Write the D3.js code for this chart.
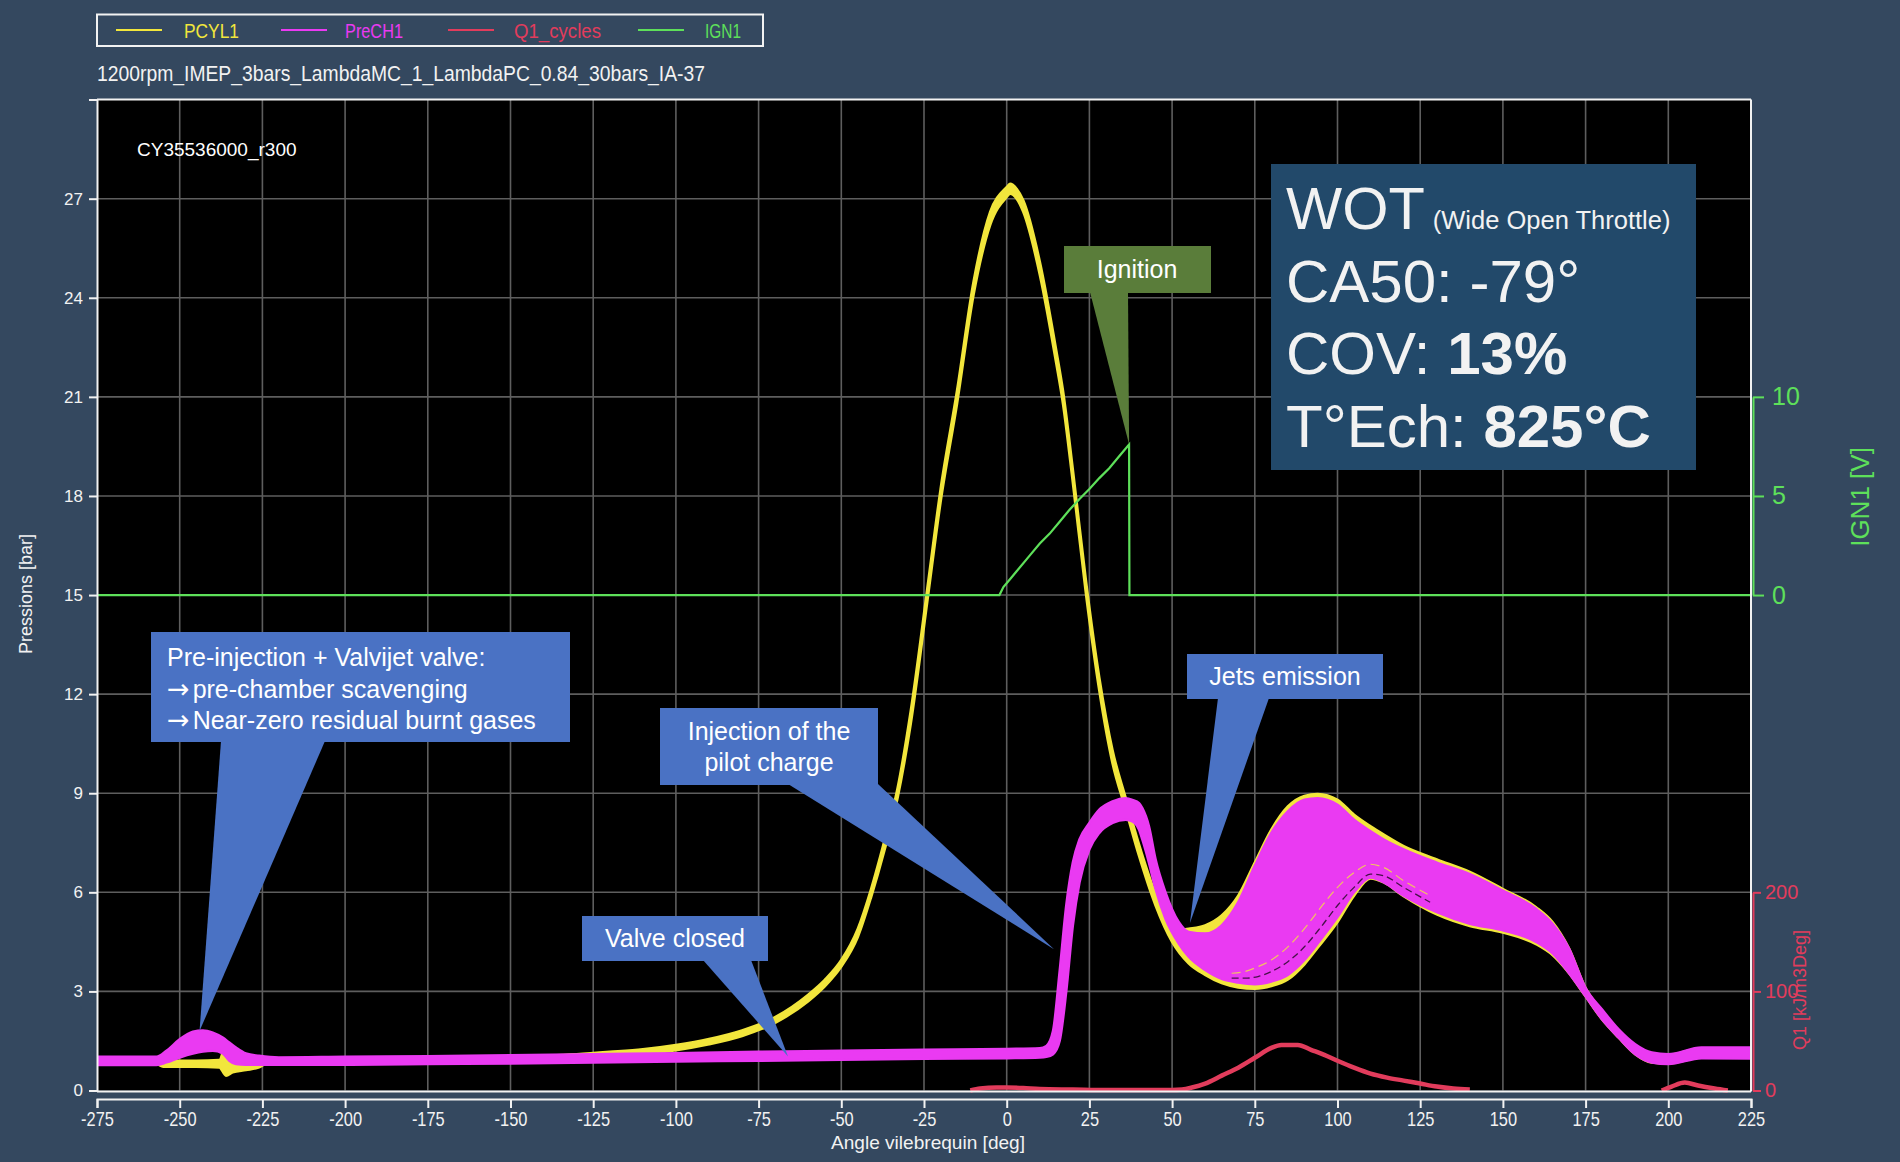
<!DOCTYPE html>
<html><head><meta charset="utf-8">
<script src="https://cdn.jsdelivr.net/npm/d3@7"></script>
<style>
html,body{margin:0;padding:0;background:#34485f;}
svg{display:block;}
</style></head><body>
<svg id="chart" width="1900" height="1162"></svg>
<script>
// ---------------- DATA ----------------
const seriesNames = ["PCYL1", "PreCH1", "Q1_cycles", "IGN1"];
const xTicks = [-275,-250,-225,-200,-175,-150,-125,-100,-75,-50,-25,0,25,50,75,100,125,150,175,200,225];
const yTicks = [0,3,6,9,12,15,18,21,24,27];
const ignTicks = [0,5,10];
const q1Ticks = [0,100,200];

// PCYL1 (cylinder pressure, bar) – envelope of the recorded cycles
const pcylAngle = [-275,-257,-255,-245,-238,-236,-234,-230,-226,-224,-200,-175,-150,-130,-120,-110,-100,-90,-80,-70,-60,-55,-50,-45,-41,-37,-33,-29,-24,-20,-15,-10,-5,0,1,3,5,10,15,17,20,24,28,32,36,40,45,50,55,60,65,70,75,80,85,90,94,100,105,110,114,120,130,140,150,160,165,170,175,180,185,190,195,200,210,225];
const pcylLow  = [0.8,0.8,0.72,0.72,0.7,0.45,0.55,0.62,0.7,0.8,0.82,0.85,0.9,0.97,1.03,1.1,1.22,1.4,1.65,2.05,2.7,3.15,3.75,4.65,5.85,7.25,8.85,11.1,14.8,17.8,20.8,24.1,26.2,27.05,27.15,27.0,26.6,24.7,22.0,20.8,18.4,15.0,12.1,9.9,8.5,7.1,5.6,4.5,3.85,3.5,3.25,3.12,3.08,3.16,3.36,3.82,4.32,5.1,5.9,6.42,6.3,5.88,5.33,4.98,4.78,4.43,4.1,3.55,2.85,2.15,1.6,1.1,0.85,0.82,1.0,1.0];
const pcylHigh = [0.95,0.95,0.9,0.9,0.92,1.4,1.1,0.95,0.9,0.92,0.95,0.98,1.02,1.1,1.17,1.25,1.38,1.56,1.82,2.22,2.9,3.35,3.95,4.9,6.1,7.55,9.15,11.5,15.2,18.2,21.2,24.5,26.6,27.35,27.45,27.3,26.95,25.1,22.4,21.2,18.8,15.4,12.5,10.3,8.85,7.45,5.95,4.85,4.9,5.0,5.3,5.9,6.9,7.9,8.6,8.92,8.98,8.8,8.35,8.0,7.75,7.4,7.0,6.62,6.1,5.55,5.1,4.3,3.1,2.4,1.8,1.35,1.1,1.08,1.28,1.28];

// PreCH1 (pre-chamber pressure, bar) – envelope of the recorded cycles
const prechAngle = [-275,-257,-254,-250,-246,-243,-240,-237,-235,-233,-230,-226,-220,-200,-175,-150,-125,-100,-75,-50,-25,0,10,12,14,16,18,20,22,25,28,32,36,38,40,41,43,45,48,52,55,60,65,70,75,80,85,90,94,100,105,110,114,120,130,140,150,160,165,170,175,180,185,190,195,200,210,225];
const prechLow  = [0.77,0.77,0.85,1.0,1.12,1.18,1.2,1.12,0.9,0.8,0.78,0.78,0.78,0.78,0.8,0.82,0.85,0.88,0.9,0.93,0.96,0.98,1.0,1.02,1.1,1.5,3.0,5.0,6.3,7.3,7.8,8.1,8.2,8.15,7.9,7.6,6.9,6.1,5.2,4.45,4.05,3.65,3.38,3.27,3.22,3.3,3.5,3.95,4.45,5.25,6.0,6.45,6.3,5.9,5.4,5.05,4.85,4.5,4.15,3.55,2.85,2.15,1.6,1.1,0.85,0.8,0.98,0.97];
const prechHigh = [1.02,1.02,1.2,1.55,1.78,1.82,1.75,1.6,1.45,1.3,1.12,1.05,1.0,1.02,1.04,1.07,1.1,1.13,1.17,1.2,1.23,1.26,1.28,1.35,1.8,3.6,5.6,6.9,7.6,8.1,8.5,8.75,8.85,8.8,8.7,8.55,8.0,7.0,6.0,5.1,4.8,4.75,5.0,5.7,6.8,7.8,8.45,8.8,8.85,8.65,8.2,7.85,7.6,7.3,6.9,6.55,6.05,5.5,5.05,4.3,3.1,2.45,1.85,1.4,1.15,1.1,1.3,1.3];

// a few individual late-burning cycles visible inside the band
const lateAngle  = [68,72,76,80,85,90,95,100,105,110,114,120,128];
const lateCycleA = [3.4,3.4,3.45,3.6,3.9,4.35,4.95,5.6,6.15,6.55,6.5,6.15,5.7];
const lateCycleB = [3.55,3.6,3.75,3.95,4.35,4.9,5.55,6.15,6.6,6.85,6.75,6.35,5.9];

// Q1_cycles (heat release, kJ/m3Deg) – null = no trace
const q1Angle = [-11,-8,-3,0,5,10,20,30,50,53,56,60,65,70,75,80,83,88,92,96,100,105,110,115,120,125,130,135,140,170,198,201,205,209,214,218];
const q1Value = [0,2,3,3,2.5,1.5,1,0.5,0.5,1,3,7,15,23,33,43,46,46,41,36,30,23,17,13,10,7,4,2,1,null,0,4,8,5,2,0];

// IGN1 (ignition coil signal, V)
const ignAngle = [-275,-2.2,-1,1,3,7,10,13,16,19,22,25,28,31,34,37,37.1,225];
const ignValue = [0,0,0.4,0.8,1.2,2.0,2.6,3.1,3.7,4.3,4.85,5.35,5.9,6.4,7.0,7.6,0,0];

// annotation texts
const infoLines = ["WOT", "CA50: -79°", "COV: ", "T°Ech: "];
const infoBold = ["", "", "13%", "825°C"];

// ---------------- LAYOUT ----------------
const C = {
  bg:"#34485f", plot:"#000000", grid:"#5e5e5e", white:"#f2f2f2",
  yellow:"#f2e63c", magenta:"#ea3af2", red:"#e23c5c", green:"#5ee05a",
  blue:"#4a72c4", ign:"#5a7d3a", info:"#22496a"
};
const SANS = "'Liberation Sans',Arial,Helvetica,sans-serif";

const L = 97, R = 1751;
const x = d3.scaleLinear().domain([-275,225]).range([L,R]);
const y = d3.scaleLinear().domain([0,30]).range([1090.5,99.6]);
const yIgn = d3.scaleLinear().domain([0,10]).range([y(15), y(21)]);
const yQ1 = d3.scaleLinear().domain([0,200]).range([y(0), y(6)]);

const svg = d3.select("#chart");
svg.append("rect").attr("width",1900).attr("height",1162).attr("fill",C.bg);

// narrow (condensed) text helper
function narrow(parent, px, py, str, size, fill, width, anchor){
  return parent.append("text").attr("x",px).attr("y",py).attr("font-family",SANS).attr("font-size",size)
    .attr("fill",fill).attr("textLength",width).attr("lengthAdjust","spacingAndGlyphs")
    .attr("text-anchor",anchor||"start").text(str);
}

// plot background
svg.append("rect").attr("x",L).attr("y",y(30)).attr("width",R-L).attr("height",y(0)-y(30)).attr("fill",C.plot);

// grid
const g = svg.append("g");
g.selectAll(".vg").data(xTicks.slice(1,-1)).join("line")
  .attr("x1",d=>x(d)).attr("x2",d=>x(d)).attr("y1",y(30)).attr("y2",y(0))
  .attr("stroke",C.grid).attr("stroke-width",1.6);
g.selectAll(".hg").data(yTicks.slice(1)).join("line")
  .attr("x1",L).attr("x2",R).attr("y1",d=>y(d)).attr("y2",d=>y(d))
  .attr("stroke",C.grid).attr("stroke-width",1.6);

// ---- series ----
const pcyl = pcylAngle.map((a,i)=>({a, lo:pcylLow[i], hi:pcylHigh[i]}));
const prech = prechAngle.map((a,i)=>({a, lo:prechLow[i], hi:prechHigh[i]}));
const q1 = q1Angle.map((a,i)=>({a, v:q1Value[i]}));
const ign = ignAngle.map((a,i)=>({a, v:ignValue[i]}));

const area = d3.area().x(d=>x(d.a)).y0(d=>y(d.lo)).y1(d=>y(d.hi)).curve(d3.curveMonotoneX);
const lineLo = d3.line().x(d=>x(d.a)).y(d=>y(d.lo)).curve(d3.curveMonotoneX);
const lineHi = d3.line().x(d=>x(d.a)).y(d=>y(d.hi)).curve(d3.curveMonotoneX);

// PCYL1
svg.append("path").datum(pcyl).attr("d",area).attr("fill",C.yellow);
[lineLo,lineHi].forEach(fn=>svg.append("path").datum(pcyl).attr("d",fn)
  .attr("fill","none").attr("stroke",C.yellow).attr("stroke-width",2.5).attr("stroke-linejoin","round"));

// PreCH1
svg.append("path").datum(prech).attr("d",area).attr("fill",C.magenta);
[lineLo,lineHi].forEach(fn=>svg.append("path").datum(prech).attr("d",fn)
  .attr("fill","none").attr("stroke",C.magenta).attr("stroke-width",2.5).attr("stroke-linejoin","round"));

// individual cycles inside band
const cyc = d3.line().x(d=>x(d.a)).y(d=>y(d.v)).curve(d3.curveMonotoneX);
svg.append("path").datum(lateAngle.map((a,i)=>({a,v:lateCycleA[i]}))).attr("d",cyc)
  .attr("fill","none").attr("stroke","#000").attr("stroke-width",1.3).attr("stroke-dasharray","7,4").attr("opacity",0.7);
svg.append("path").datum(lateAngle.map((a,i)=>({a,v:lateCycleB[i]}))).attr("d",cyc)
  .attr("fill","none").attr("stroke",C.yellow).attr("stroke-width",1.2).attr("stroke-dasharray","9,5").attr("opacity",0.8);

// Q1
svg.append("path").datum(q1)
  .attr("d",d3.line().defined(d=>d.v!==null).x(d=>x(d.a)).y(d=>yQ1(d.v)).curve(d3.curveMonotoneX))
  .attr("fill","none").attr("stroke",C.red).attr("stroke-width",4.5).attr("stroke-linejoin","round");

// IGN1
svg.append("path").datum(ign)
  .attr("d",d3.line().x(d=>x(d.a)).y(d=>yIgn(d.v)))
  .attr("fill","none").attr("stroke",C.green).attr("stroke-width",2.2);

// ---- frame ----
const fr = svg.append("g").attr("stroke",C.white).attr("stroke-width",2).attr("fill","none");
fr.append("line").attr("x1",L).attr("x2",R).attr("y1",y(30)).attr("y2",y(30));
fr.append("line").attr("x1",R).attr("x2",R).attr("y1",y(30)).attr("y2",y(0)+1);
fr.append("line").attr("x1",L).attr("x2",R).attr("y1",y(0)+1).attr("y2",y(0)+1);

// ---- axes ----
const fmt = d => String(d);
const yAxis = svg.append("g").attr("transform",`translate(${L},0)`)
  .call(d3.axisLeft(y).tickValues(yTicks).tickFormat(fmt).tickSize(8).tickSizeOuter(8).tickPadding(6));
yAxis.selectAll("text").attr("font-family",SANS).attr("font-size",17).attr("fill",C.white);
yAxis.selectAll("path,line").attr("stroke",C.white).attr("stroke-width",2);

const xAxis = svg.append("g").attr("transform",`translate(0,1099)`)
  .call(d3.axisBottom(x).tickValues(xTicks).tickFormat(fmt).tickSize(9).tickSizeOuter(9).tickPadding(4));
xAxis.selectAll("text").attr("font-family",SANS).attr("font-size",20).attr("fill",C.white)
  .attr("transform","scale(0.82,1)");
xAxis.selectAll("path,line").attr("stroke",C.white).attr("stroke-width",2);

const ignAxis = svg.append("g").attr("transform",`translate(${R+2},0)`)
  .call(d3.axisRight(yIgn).tickValues(ignTicks).tickFormat(fmt).tickSize(11).tickSizeOuter(0).tickPadding(8));
ignAxis.selectAll("text").attr("font-family",SANS).attr("font-size",25).attr("fill",C.green);
ignAxis.selectAll("path,line").attr("stroke",C.green).attr("stroke-width",2);

const q1Axis = svg.append("g").attr("transform",`translate(${R+2},0)`)
  .call(d3.axisRight(yQ1).tickValues(q1Ticks).tickFormat(fmt).tickSize(8).tickSizeOuter(0).tickPadding(4));
q1Axis.selectAll("text").attr("font-family",SANS).attr("font-size",20).attr("fill",C.red);
q1Axis.selectAll("path,line").attr("stroke",C.red).attr("stroke-width",2);

// axis titles
svg.append("text").attr("transform","translate(26,594) rotate(-90)").attr("text-anchor","middle")
  .attr("dominant-baseline","central").attr("font-family",SANS).attr("font-size",18).attr("fill",C.white)
  .text("Pressions [bar]");
svg.append("text").attr("transform","translate(1860,497) rotate(-90)").attr("text-anchor","middle")
  .attr("dominant-baseline","central").attr("font-family",SANS).attr("font-size",26).attr("fill",C.green)
  .text("IGN1 [V]");
svg.append("text").attr("transform","translate(1800,990) rotate(-90)").attr("text-anchor","middle")
  .attr("dominant-baseline","central").attr("font-family",SANS).attr("font-size",18).attr("fill",C.red)
  .text("Q1 [kJ/m3Deg]");
narrow(svg, 831, 1149, "Angle vilebrequin [deg]", 19, C.white, 194);

// ---- legend ----
const lg = svg.append("g");
lg.append("rect").attr("x",97).attr("y",14.5).attr("width",666).attr("height",31.5)
  .attr("fill","none").attr("stroke",C.white).attr("stroke-width",2);
const legColors = [C.yellow, C.magenta, C.red, C.green];
const legX = [116, 281, 448, 638];
const legTextX = [184, 345, 514, 705];
const legW = [55, 58, 87, 36];
seriesNames.forEach((n,i)=>{
  lg.append("line").attr("x1",legX[i]).attr("x2",legX[i]+46).attr("y1",30).attr("y2",30)
    .attr("stroke",legColors[i]).attr("stroke-width",2);
  narrow(lg, legTextX[i], 37.5, n, 21, legColors[i], legW[i]);
});

// subtitle & cycle tag
narrow(svg, 97, 81, "1200rpm_IMEP_3bars_LambdaMC_1_LambdaPC_0.84_30bars_IA-37", 22, C.white, 608);
svg.append("text").attr("x",137).attr("y",156).attr("font-family",SANS).attr("font-size",19)
  .attr("fill","#ffffff").text("CY35536000_r300");

// ---- callouts ----
const callouts = [
  {lines:["Pre-injection + Valvijet valve:","pre-chamber scavenging","Near-zero residual burnt gases"], arrow:[false,true,true],
   box:[151,632,419,110], base:[221,325], tip:[x(-244), y(1.8)], fill:C.blue, anchor:"start", tx:167, ty:666, lh:31.5},
  {lines:["Injection of the","pilot charge"], box:[660,708,218,77], base:[788,878], tip:[x(14.3), y(4.28)],
   fill:C.blue, anchor:"middle", tx:769, ty:740, lh:31},
  {lines:["Valve closed"], box:[582,916,186,45], base:[703,751], tip:[x(-66.1), y(1.03)],
   fill:C.blue, anchor:"middle", tx:675, ty:947, lh:31},
  {lines:["Jets emission"], box:[1187,654,196,45], base:[1218,1269], tip:[x(55.4), y(5.07)],
   fill:C.blue, anchor:"middle", tx:1285, ty:685, lh:31},
  {lines:["Ignition"], box:[1064,246,147,47], base:[1090,1128], tip:[x(37), yIgn(7.6)],
   fill:C.ign, anchor:"middle", tx:1137, ty:278, lh:31}
];
callouts.forEach(c=>{
  const [bx,by,bw,bh] = c.box;
  const gg = svg.append("g");
  gg.append("path").attr("d",`M${c.base[0]},${by+bh-1}L${c.tip[0]},${c.tip[1]}L${c.base[1]},${by+bh-1}Z`).attr("fill",c.fill);
  gg.append("rect").attr("x",bx).attr("y",by).attr("width",bw).attr("height",bh).attr("fill",c.fill);
  c.lines.forEach((t,i)=>{
    const tt = gg.append("text").attr("x",c.tx).attr("y",c.ty+i*c.lh)
      .attr("text-anchor",c.anchor).attr("font-family",SANS).attr("font-size",25).attr("fill","#ffffff");
    if (c.arrow && c.arrow[i]) {
      tt.append("tspan").attr("font-family","'DejaVu Sans',sans-serif").attr("font-size",27).text("→");
      tt.append("tspan").attr("dx",3).text(t);
    } else tt.text(t);
  });
});

// ---- info box ----
const ib = svg.append("g");
ib.append("rect").attr("x",1271).attr("y",164).attr("width",425).attr("height",306).attr("fill",C.info);
const t0 = ib.append("text").attr("x",1286).attr("y",229).attr("font-family",SANS).attr("fill",C.white);
t0.append("tspan").attr("font-size",59.5).text(infoLines[0]);
t0.append("tspan").attr("font-size",25.5).attr("dx",8).text("(Wide Open Throttle)");
[1,2,3].forEach(i=>{
  const t = ib.append("text").attr("x",1286).attr("y",229+i*72.5).attr("font-family",SANS)
    .attr("font-size",60).attr("fill",C.white);
  t.append("tspan").text(infoLines[i]);
  if (infoBold[i]) t.append("tspan").attr("font-weight","bold").text(infoBold[i]);
});
</script>
</body></html>
